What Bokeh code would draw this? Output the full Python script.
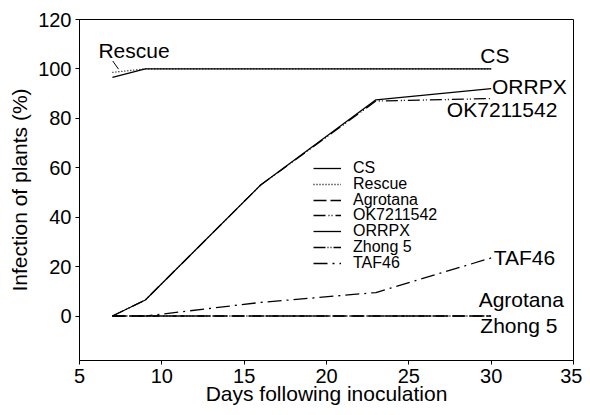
from bokeh.plotting import figure
from bokeh.models import Legend, LegendItem, Range1d, FixedTicker, Label
from bokeh.embed import file_html
from bokeh.resources import INLINE

# ---- data ----
days = [7, 9, 16, 23, 30]
cs = [96.6, 100, 100, 100, 100]
rescue = [98.6, 100, 100, 100, 100]
agrotana = [0, 0, 0, 0, 0]
ok7211542 = [0, 6.5, 53, 87, 88]
orrpx = [0, 6.5, 53, 87.5, 92]
zhong5 = [0, 0, 0, 0, 0]
taf46 = [0, 0, 5.5, 9.5, 23.5]

series_names = ["CS", "Rescue", "Agrotana", "OK7211542", "ORRPX", "Zhong 5", "TAF46"]
series_values = [cs, rescue, agrotana, ok7211542, orrpx, zhong5, taf46]
x_ticks = [5, 10, 15, 20, 25, 30, 35]
y_ticks = [0, 20, 40, 60, 80, 100, 120]

# annotation labels (text, x, y) in data units
annot_text = ["Rescue", "CS", "ORRPX", "OK7211542", "TAF46", "Agrotana", "Zhong 5"]
annot_x = [6.15, 29.34, 30.05, 27.31, 30.15, 29.24, 29.34]
annot_y = [107.4, 105.6, 92.8, 83.4, 23.8, 6.6, -3.9]

FONT = "Liberation Sans"
dashes = ["solid", "1 2", "13 4", "12 3 1 2 1 3", "solid", "12 2 1 2 1 2", "14 5 2 5"]

p = figure(width=582, height=407, output_backend="svg", toolbar_location=None,
           x_range=Range1d(5, 35), y_range=Range1d(-18, 120),
           min_border_left=79, min_border_right=9, min_border_top=19, min_border_bottom=45)

p.xgrid.visible = False
p.ygrid.visible = False
p.outline_line_color = "black"
p.outline_line_width = 1
p.background_fill_color = "white"
p.border_fill_color = "white"

for ax in (p.xaxis[0], p.yaxis[0]):
    ax.axis_line_color = "black"
    ax.major_tick_line_color = "black"
    ax.major_tick_out = 4
    ax.major_tick_in = 0
    ax.minor_tick_line_color = None
    ax.major_label_text_font = FONT
    ax.major_label_text_font_size = "20px"
    ax.major_label_text_color = "black"
    ax.axis_label_text_font = FONT
    ax.axis_label_text_font_size = "21px"
    ax.axis_label_text_font_style = "normal"
    ax.axis_label_text_color = "black"

p.xaxis.ticker = FixedTicker(ticks=x_ticks)
p.yaxis.ticker = FixedTicker(ticks=y_ticks)
p.xaxis.axis_label = "Days following inoculation"
p.yaxis.axis_label = "Infection of plants (%)"
p.xaxis.major_label_standoff = 4
p.xaxis.axis_label_standoff = -4
p.yaxis.major_label_standoff = 4
p.yaxis.axis_label_standoff = 4

# legend rows: one single-item legend per series, stacked tightly
row_top = 182.7
row_step = 15.7
for i, (name, vals, dash) in enumerate(zip(series_names, series_values, dashes)):
    r = p.line(days, vals, line_color="black", line_width=1.3, line_dash=dash)
    lg = Legend(items=[LegendItem(label=name, renderers=[r])],
                location=(234, row_top - i * row_step), padding=0, margin=0, spacing=0,
                glyph_width=28, glyph_height=14, label_height=14, label_standoff=12,
                label_text_font=FONT, label_text_font_size="16px", label_text_color="black",
                border_line_color=None, background_fill_alpha=0)
    p.add_layout(lg)

for t, x, y in zip(annot_text, annot_x, annot_y):
    p.add_layout(Label(x=x, y=y, text=t, text_font=FONT, text_font_size="21px",
                       text_baseline="middle", text_align="left", text_color="black"))

# leader line for the "Rescue" label
p.line([7.02, 7.37], [103.2, 99.9], line_color="black", line_width=1)

open("out.html", "w").write(file_html(p, INLINE))
